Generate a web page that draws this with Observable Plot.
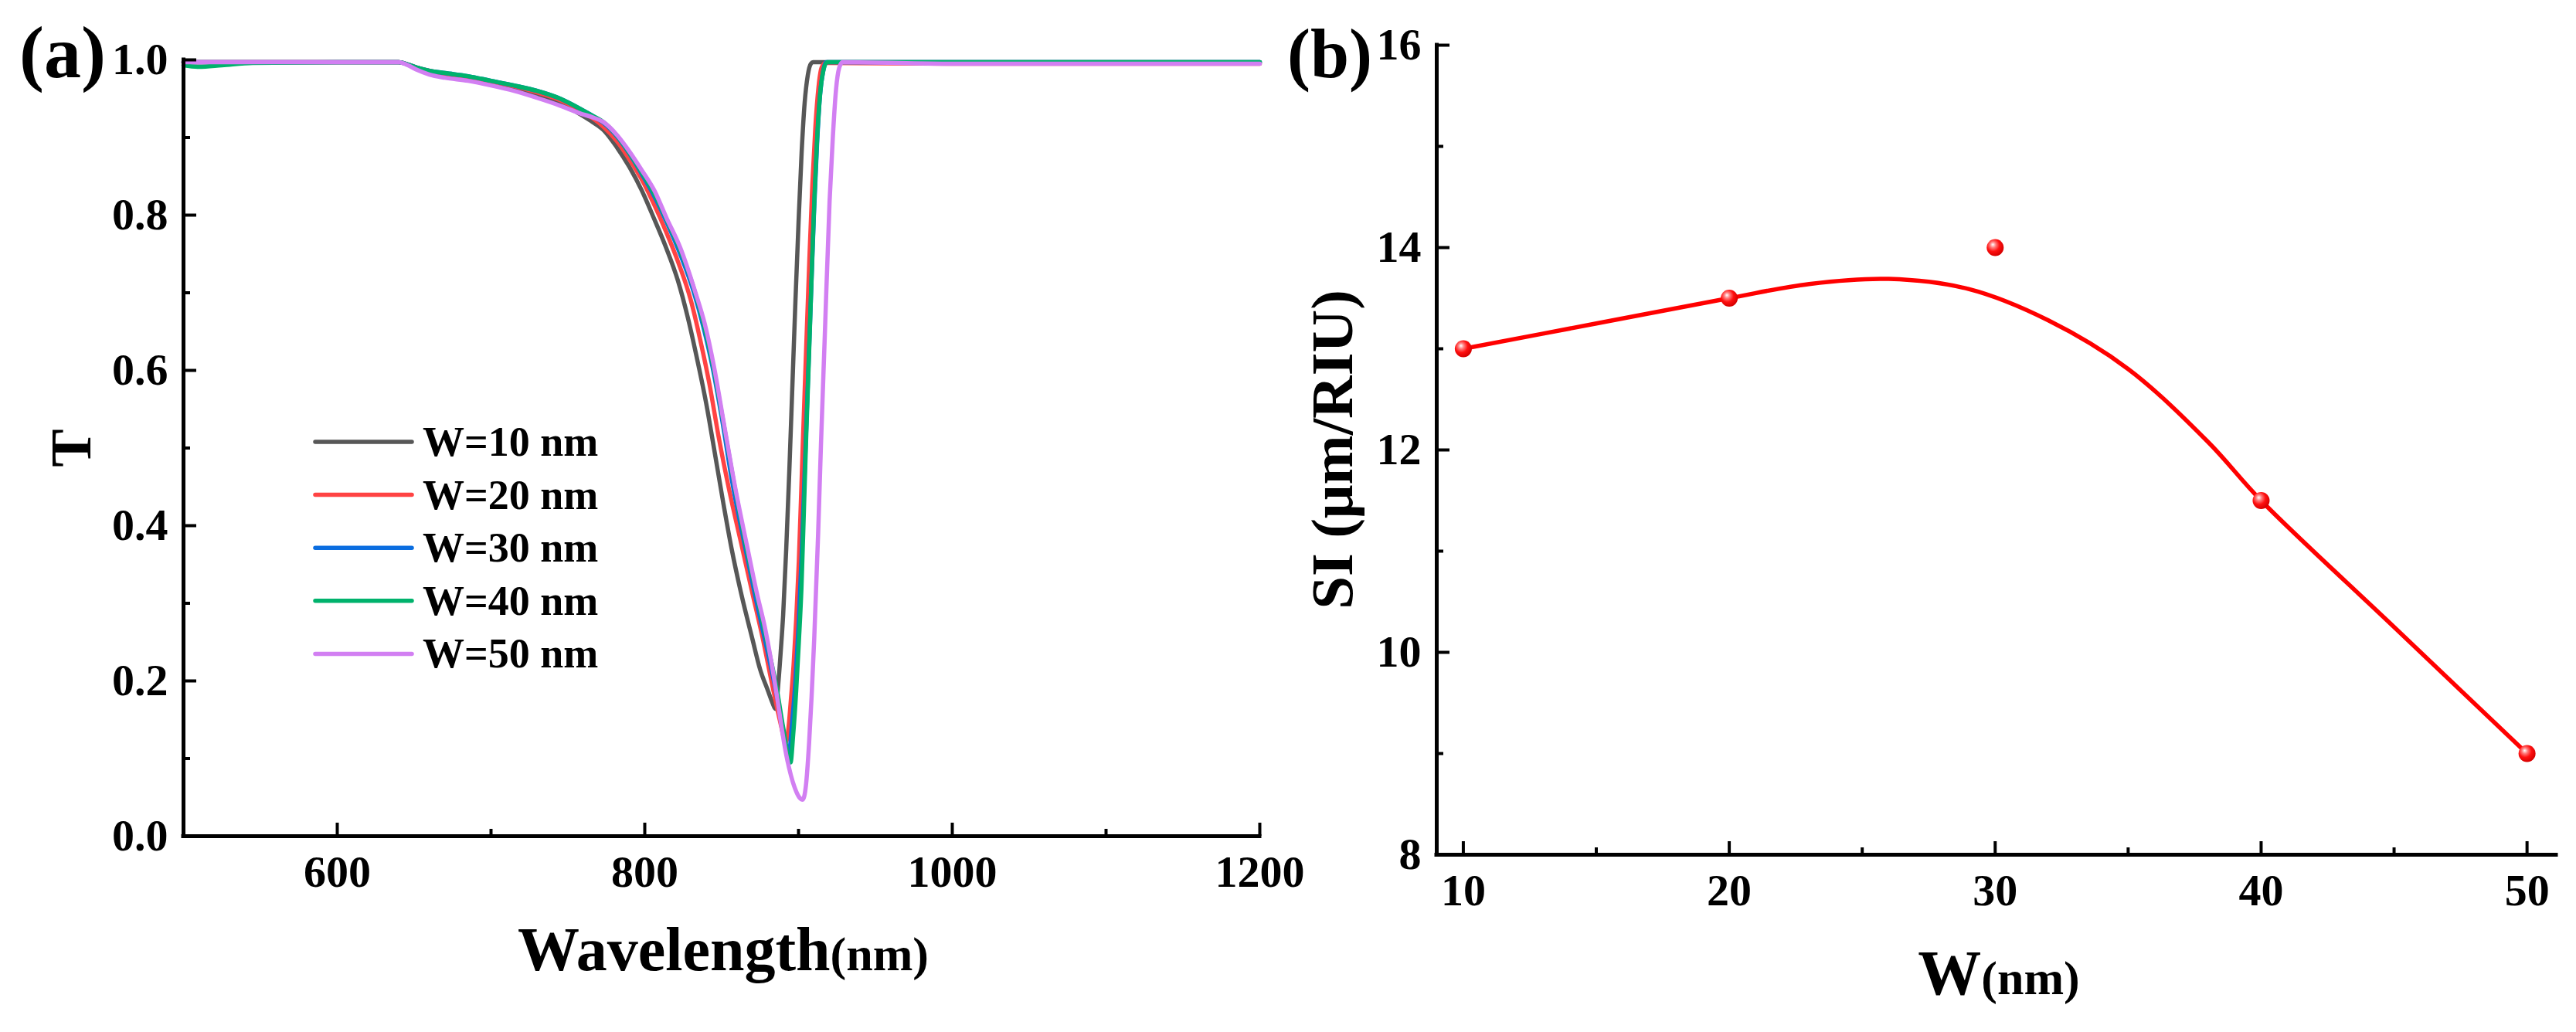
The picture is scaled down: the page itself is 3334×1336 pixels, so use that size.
<!DOCTYPE html>
<html><head><meta charset="utf-8">
<script src="https://cdn.jsdelivr.net/npm/d3@7"></script>
<script src="https://cdn.jsdelivr.net/npm/@observablehq/plot@0.6"></script>
<style>
html,body{margin:0;padding:0;background:#fff;overflow:hidden}
#wrap{position:relative;width:3334px;height:1336px;background:#fff}
#wrap svg{position:absolute;top:0}
</style></head><body><div id="wrap"></div>
<script>
// ---------- Panel (a) data: transmission spectra ----------
const seriesNames  = ["W=10 nm","W=20 nm","W=30 nm","W=40 nm","W=50 nm"];
const seriesColors = ["#575757","#ff4343","#0a6de0","#00b26c","#d27ff2"];

const lam10 = [500,600,640,646,652,660,670,685,700,715,730,745,758,766,773,782,790,798,805.5,813.5,821.5,828,834,840,845,851,856.5,863,870,875,880,883,885,887,888.5,890,892,894,896,898,900,902,904,906,908,909.5,1000,1100,1200];
const t10   = [.997,.997,.997,.994,.989,.984,.980,.976,.970,.963,.955,.944,.930,.920,.910,.887,.862,.832,.798,.760,.716,.668,.615,.557,.50,.43,.370,.31,.254,.215,.188,.172,.164,.20,.24,.285,.37,.47,.58,.69,.79,.88,.945,.98,.995,.997,.997,.997,.997];

const lam20 = [500,600,640,646,652,660,670,685,700,715,730,745,758,766,773,782,790,798,806,814,822,830,836,842,848,855,863.3,870,876.6,883.4,888,891.8,893.5,895,896.8,898.5,900.2,902.7,905,907,909,911,913,915,917.5,1000,1100,1200];
const t20   = [.997,.997,.997,.994,.990,.986,.982,.978,.972,.966,.958,.948,.935,.925,.914,.895,.872,.846,.814,.778,.738,.690,.640,.583,.515,.445,.372,.313,.256,.19,.148,.121,.14,.175,.221,.28,.354,.50,.63,.74,.84,.915,.965,.99,.996,.995,.995,.995];

const lam30 = [500,600,640,646,652,660,670,685,700,715,730,745,758,766,773,782,790,798,806,814,823,832,838,844,850,857,865,872,878.5,885,889.5,893.5,896,898,900,902,904,906,908,910,912,914,916,918,1000,1100,1200];
const t30   = [.997,.997,.997,.994,.990,.986,.983,.979,.973,.967,.960,.950,.937,.928,.919,.901,.879,.853,.825,.792,.750,.700,.657,.605,.540,.455,.375,.308,.25,.19,.142,.105,.15,.20,.27,.36,.47,.58,.69,.80,.89,.955,.985,.997,.997,.997,.997];

const lam40 = [500,510,525,545,600,640,646,652,660,670,685,700,715,730,745,758,766,773,782,790,798,806,814,823,832,838,844,850.5,858,866,873,879,886,890,894.8,896.5,898.5,900.2,901.9,903.5,905,907,909,910.5,912,914,916,918.6,1000,1100,1200];
const t40   = [.993,.991,.993,.996,.997,.997,.994,.990,.986,.983,.979,.973,.967,.960,.950,.937,.928,.920,.902,.880,.855,.828,.795,.755,.705,.662,.61,.54,.455,.372,.308,.254,.188,.140,.095,.13,.188,.25,.32,.42,.515,.63,.75,.83,.895,.955,.985,.997,.997,.997,.997];

const lam50 = [500,600,640,646,652,660,670,685,700,715,730,745,758,766,773,782,790,798,806.4,814,823.1,833,839,845,851.6,859,866.7,873,878,882,886,889,892,895.1,898,900.5,902.7,904.8,906.9,908.5,910.2,912.7,914.6,917,920.2,922.3,924.4,926.5,928.6,1000,1100,1200];
const t50   = [.997,.997,.997,.993,.987,.981,.977,.973,.967,.960,.951,.941,.931,.926,.920,.903,.882,.858,.831,.797,.758,.700,.660,.605,.530,.447,.372,.312,.27,.228,.18,.14,.105,.078,.060,.050,.047,.065,.121,.180,.254,.387,.505,.640,.818,.900,.962,.990,.997,.995,.995,.995];

const lamSeries = [lam10, lam20, lam30, lam40, lam50];
const tSeries   = [t10, t20, t30, t40, t50];

const xMajorA = [600, 800, 1000, 1200];
const xMinorA = [700, 900, 1100];
const yMajorA = [0, 0.2, 0.4, 0.6, 0.8, 1.0];
const yMinorA = [0.1, 0.3, 0.5, 0.7, 0.9];

// ---------- Panel (b) data: sensitivity vs W ----------
const widthsW  = [10, 20, 30, 40, 50];
const siValues = [13, 13.5, 14, 11.5, 9];
const fitW  = [10, 15, 20, 23, 26, 29, 32, 35, 38, 40, 45, 50];
const fitSI = [13.0, 13.25, 13.5, 13.64, 13.69, 13.59, 13.28, 12.8, 12.08, 11.5, 10.25, 9.0];

const xMajorB = [10, 20, 30, 40, 50];
const xMinorB = [15, 25, 35, 45];
const yMajorB = [8, 10, 12, 14, 16];
const yMinorB = [9, 11, 13, 15];

// ---------- styling ----------
const FONT = "'Liberation Serif','Times New Roman',Times,serif";
const TICK_FS = 58;
const AXIS_W = 5, TICK_W = 4, MAJOR_LEN = 17, MINOR_LEN = 9;

function axisMarks(cfg) {
  const fh = cfg.height - cfg.marginTop - cfg.marginBottom;
  const fw = cfg.width - cfg.marginLeft - cfg.marginRight;
  return [
    Plot.tickX(cfg.xMajor, {x: d => d, insetTop: fh - MAJOR_LEN, stroke: "black", strokeWidth: TICK_W}),
    Plot.tickX(cfg.xMinor, {x: d => d, insetTop: fh - MINOR_LEN, stroke: "black", strokeWidth: TICK_W}),
    Plot.tickY(cfg.yMajor, {y: d => d, insetRight: fw - MAJOR_LEN, stroke: "black", strokeWidth: TICK_W}),
    Plot.tickY(cfg.yMinor, {y: d => d, insetRight: fw - MINOR_LEN, stroke: "black", strokeWidth: TICK_W}),
    Plot.ruleY([cfg.yDomain[0]], {stroke: "black", strokeWidth: AXIS_W, strokeLinecap: "square"}),
    Plot.ruleX([cfg.xDomain[0]], {stroke: "black", strokeWidth: AXIS_W, strokeLinecap: "square"}),
    Plot.axisX(cfg.xMajor, {tickSize: 0, tickPadding: 24, tickFormat: cfg.xFormat, label: null,
      fontSize: TICK_FS, fontFamily: FONT, fontWeight: "bold", fill: "black"}),
    Plot.axisY(cfg.yMajor, {tickSize: 0, tickPadding: 20, tickFormat: cfg.yFormat, label: null,
      fontSize: TICK_FS, fontFamily: FONT, fontWeight: "bold", fill: "black"})
  ];
}

const wrap = document.getElementById("wrap");

// ---------- Panel (a) ----------
const cfgA = {width: 1700, height: 1336, marginLeft: 237, marginRight: 70, marginTop: 77, marginBottom: 254,
  xDomain: [500, 1200], yDomain: [0, 1], xMajor: xMajorA, xMinor: xMinorA, yMajor: yMajorA, yMinor: yMinorA,
  xFormat: d => String(d), yFormat: d3.format(".1f")};

const lineMarksA = seriesNames.map((name, i) =>
  Plot.line(lamSeries[i].map((l, j) => ({lam: l, t: tSeries[i][j]})),
    {x: "lam", y: "t", stroke: seriesColors[i], strokeWidth: 5.5, curve: "monotone-x"}));

const plotA = Plot.plot({
  width: cfgA.width, height: cfgA.height,
  marginLeft: cfgA.marginLeft, marginRight: cfgA.marginRight, marginTop: cfgA.marginTop, marginBottom: cfgA.marginBottom,
  x: {domain: cfgA.xDomain}, y: {domain: cfgA.yDomain},
  style: {background: "transparent", overflow: "visible"},
  marks: [...lineMarksA, ...axisMarks(cfgA)]
});
plotA.style.left = "0px";
wrap.appendChild(plotA);

// ---------- Panel (b) ----------
const cfgB = {width: 1667, height: 1336, marginLeft: 192, marginRight: 26, marginTop: 58, marginBottom: 230,
  xDomain: [9, 51.1], yDomain: [8, 16], xMajor: xMajorB, xMinor: xMinorB, yMajor: yMajorB, yMinor: yMinorB,
  xFormat: d => String(d), yFormat: d => String(d)};

const plotB = Plot.plot({
  width: cfgB.width, height: cfgB.height,
  marginLeft: cfgB.marginLeft, marginRight: cfgB.marginRight, marginTop: cfgB.marginTop, marginBottom: cfgB.marginBottom,
  x: {domain: cfgB.xDomain}, y: {domain: cfgB.yDomain},
  style: {background: "transparent", overflow: "visible"},
  marks: [
    Plot.line(fitW.map((w, i) => ({w, si: fitSI[i]})), {x: "w", y: "si", stroke: "#ff0000", strokeWidth: 5.5, curve: "catmull-rom"}),
    Plot.dot(widthsW.map((w, i) => ({w, si: siValues[i]})), {x: "w", y: "si", r: 11, fill: "url(#ballGrad)", stroke: "none"}),
    ...axisMarks(cfgB)
  ]
});
plotB.style.left = "1667px";
d3.select(plotB).insert("defs", ":first-child").html(
  `<radialGradient id="ballGrad" cx="0.4" cy="0.38" r="0.62" fx="0.36" fy="0.32">
     <stop offset="0" stop-color="#ffffff"/>
     <stop offset="0.28" stop-color="#ff7a7a"/>
     <stop offset="0.6" stop-color="#ff1010"/>
     <stop offset="1" stop-color="#d60000"/>
   </radialGradient>`);
wrap.appendChild(plotB);

// ---------- Overlay: panel letters, axis titles, legend ----------
const ov = d3.select(wrap).append("svg")
  .attr("width", 3334).attr("height", 1336)
  .style("left", "0px").style("pointer-events", "none")
  .attr("font-family", FONT).attr("font-weight", "bold").attr("fill", "black");

ov.append("text").attr("x", 25).attr("y", 100).attr("font-size", 96).text("(a)");
ov.append("text").attr("x", 1666).attr("y", 100).attr("font-size", 90).text("(b)");

// x titles
const xtA = ov.append("text").attr("x", 936).attr("y", 1256).attr("text-anchor", "middle");
xtA.append("tspan").attr("font-size", 80).text("Wavelength");
xtA.append("tspan").attr("font-size", 62).text("(nm)");

const xtB = ov.append("text").attr("x", 2587).attr("y", 1287).attr("text-anchor", "middle");
xtB.append("tspan").attr("font-size", 82).text("W");
xtB.append("tspan").attr("font-size", 62).text("(nm)");

// y titles
ov.append("text").attr("transform", "translate(117,580) rotate(-90)").attr("text-anchor", "middle")
  .attr("font-size", 74).text("T");
ov.append("text").attr("transform", "translate(1750,582) rotate(-90)").attr("text-anchor", "middle")
  .attr("font-size", 77).text("SI (μm/RIU)");

// legend of panel (a)
const leg = ov.append("g");
seriesNames.forEach((name, i) => {
  const y = 572 + i * 68.6;
  leg.append("line").attr("x1", 408).attr("x2", 533).attr("y1", y).attr("y2", y)
    .attr("stroke", seriesColors[i]).attr("stroke-width", 5.5).attr("stroke-linecap", "round");
  leg.append("text").attr("x", 547).attr("y", y + 18).attr("font-size", 54).text(name);
});
</script></body></html>
